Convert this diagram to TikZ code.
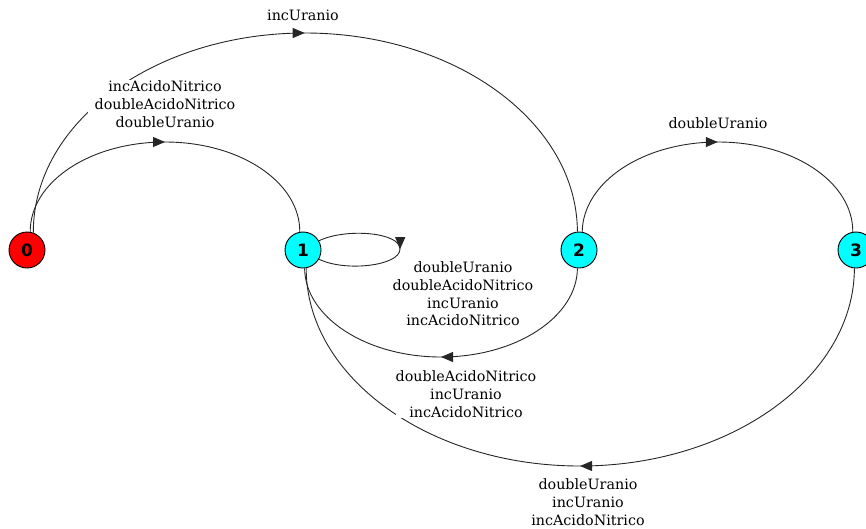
\documentclass[tikz,border=0pt]{standalone}
\usepackage{fontspec}
\setmainfont{DejaVu Serif}
\newfontfamily\statefont{DejaVu Sans}
\usetikzlibrary{decorations.markings,arrows.meta}
\definecolor{stcyan}{RGB}{0,255,255}
\definecolor{stred}{RGB}{255,0,0}
\begin{document}
\begin{tikzpicture}[x=1pt,y=-1pt,
  state/.style={circle,draw=black,line width=0.9pt,minimum size=36pt,inner sep=0pt,
    font=\statefont\bfseries\fontsize{17}{17}\selectfont},
  start/.style={state,fill=stred},
  plain/.style={state,fill=stcyan},
  trans/.style={draw=black!85,line width=0.9pt,
    postaction={decorate},
    decoration={markings,mark=at position 0.5 with {\arrow{Triangle[length=12pt,width=10pt]}}}},
  lbl/.style={align=center,fill=white,inner xsep=7pt,inner ysep=1pt,
    font=\fontsize{14.3}{17.7}\selectfont}]
\useasboundingbox (0,0) rectangle (866,528);

% states
\node[start] (s0) at (27,250) {0};
\node[plain] (s1) at (303,250) {1};
\node[plain] (s2) at (579,250) {2};
\node[plain] (s3) at (856,250) {3};

% half-elliptic transitions above the states
\draw[trans] (s0.80) .. controls (30,182) and (90,142) .. (165,142)
  .. controls (240,142) and (300,182) .. (s1.100);
\draw[trans] (s0.70) .. controls (33,122) and (155,33) .. (305,33)
  .. controls (455,33) and (577,122) .. (s2.95);
\draw[trans] (s2.80) .. controls (583,182) and (643,142) .. (718,142)
  .. controls (793,142) and (853,182) .. (s3.100);

% half-elliptic transitions back to state 1 below the states
\draw[trans] (s2.-95) .. controls (577,317) and (516,357) .. (441,357)
  .. controls (366,357) and (305,317) .. (s1.-85);
\draw[trans] (s3.-95) .. controls (854,377) and (731,466) .. (580,466)
  .. controls (429,466) and (306,377) .. (s1.-80);

% transition labels
\node[lbl] (l01) at (165,104) {incAcidoNitrico\\doubleAcidoNitrico\\doubleUranio};
\node[lbl] (l02) at (303,15) {incUranio};
\node[lbl] (l23) at (718,123) {doubleUranio};
\node[lbl] (l11) at (463,294) {doubleUranio\\doubleAcidoNitrico\\incUranio\\incAcidoNitrico};
\node[lbl,inner xsep=0pt] (l21) at (466,394) {doubleAcidoNitrico\\incUranio\\incAcidoNitrico};
\node[lbl] (l31) at (588,502) {doubleUranio\\incUranio\\incAcidoNitrico};

% self loop on state 1
\draw[trans] (s1.30) .. controls (345,228) and (400,232) .. (400,249)
  .. controls (400,266) and (345,272) .. (s1.-30);
\end{tikzpicture}
\end{document}
